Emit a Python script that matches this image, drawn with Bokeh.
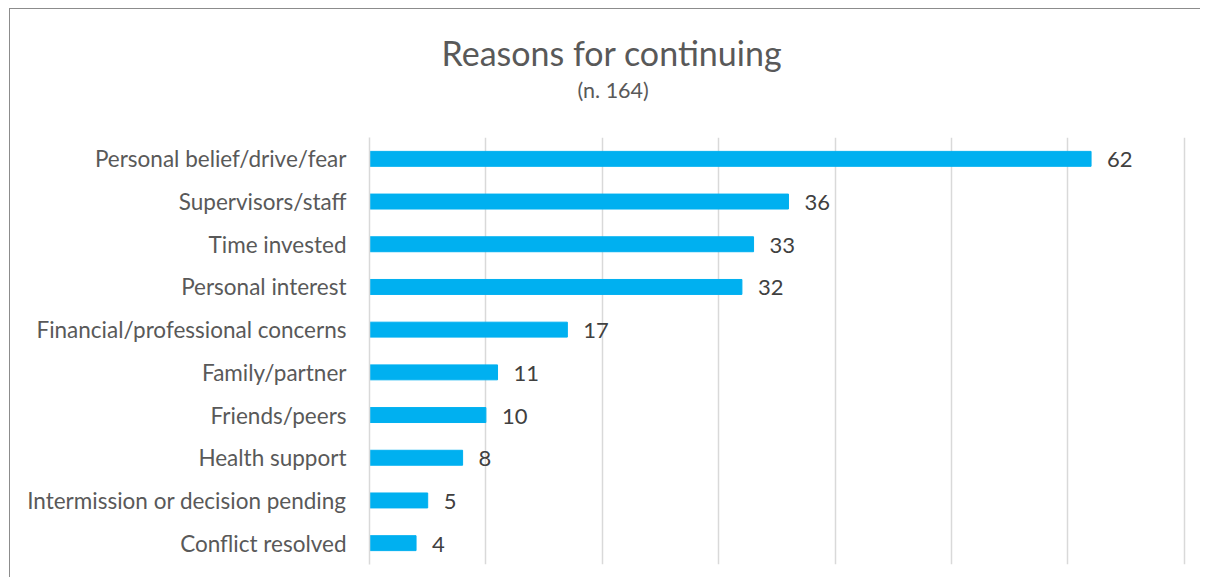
from bokeh.plotting import figure
from bokeh.models import Range1d, Title
from bokeh.core.properties import value
from bokeh.embed import file_html
from bokeh.resources import INLINE

categories = ["Personal belief/drive/fear", "Supervisors/staff", "Time invested",
              "Personal interest", "Financial/professional concerns", "Family/partner",
              "Friends/peers", "Health support", "Intermission or decision pending",
              "Conflict resolved"]
counts = [62, 36, 33, 32, 17, 11, 10, 8, 5, 4]
title_text = "Reasons for continuing"
subtitle_text = "(n. 164)"

FONT = "Lato"
W, H = 1200, 577

p = figure(width=W, height=H, y_range=list(reversed(categories)), title=None,
           x_range=Range1d(0, 70.2), output_backend="svg", toolbar_location=None,
           min_border_left=369, min_border_right=14, min_border_top=137,
           min_border_bottom=13)
p.outline_line_color = None
p.background_fill_color = "white"
p.border_fill_color = None
p.styles = {
    "background-color": "white",
    "background-image": "linear-gradient(#8c8c8c, #8c8c8c), linear-gradient(#8c8c8c, #8c8c8c)",
    "background-size": "1px 100%, 100% 1px",
    "background-position": "9px 8px, 9px 8px",
    "background-repeat": "no-repeat",
}

p.add_layout(Title(text=subtitle_text, align="left", offset=208, text_font=FONT,
                   text_font_size="21.5px", text_font_style="normal",
                   text_color="#595959", standoff=70), "above")
p.add_layout(Title(text=title_text, align="left", offset=72, text_font=FONT,
                   text_font_size="34px", text_font_style="normal",
                   text_color="#595959", standoff=-66), "above")

p.hbar(y=categories, right=counts, left=0, height=0.35, color="#00b0f0")
p.text(x=counts, y=categories, text=[str(c) for c in counts], x_offset=16,
       y_offset=1, text_baseline="middle", text_align="left", text_color="#404040",
       text_font=value(FONT), text_font_size="22px")

p.xaxis.visible = False
p.xgrid.ticker = [0, 10, 20, 30, 40, 50, 60, 70]
p.xgrid.grid_line_color = "#d9d9d9"
p.xgrid.grid_line_width = 1.5
p.ygrid.grid_line_color = None

yax = p.yaxis[0]
yax.axis_line_color = "#d9d9d9"
yax.axis_line_width = 1.5
yax.major_tick_line_color = None
yax.minor_tick_line_color = None
yax.major_tick_out = 0
yax.major_label_standoff = 23
yax.major_label_text_font = FONT
yax.major_label_text_font_size = "22.5px"
yax.major_label_text_color = "#595959"

open("out.html", "w").write(file_html(p, INLINE))
